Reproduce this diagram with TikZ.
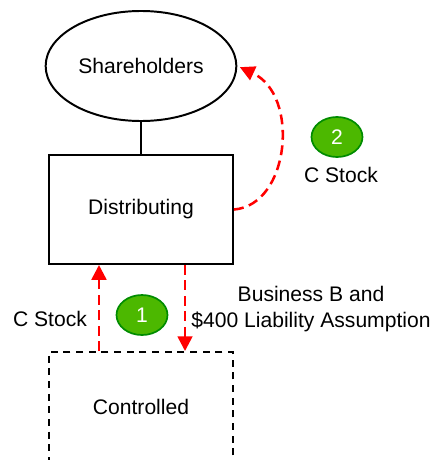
\documentclass[tikz,border=0pt]{standalone}
\usepackage{fontspec}
\setmainfont{Liberation Sans}
\usetikzlibrary{positioning,shapes.geometric,arrows.meta}

\tikzset{
  entity/.style={draw, line width=1.4pt, minimum width=4.6cm, minimum height=2.725cm},
  transfer/.style={red, line width=1.8pt, dash pattern=on 7pt off 4pt,
    -{Triangle[length=10.5pt,width=10.5pt]}},
  badge/.style={ellipse, draw=green!55!black, line width=1.2pt, fill=green!60!black!70!yellow,
    text=white, minimum width=1.275cm, minimum height=1cm, inner sep=0pt}
}

\begin{document}
\begin{tikzpicture}[x=0.025cm, y=-0.025cm,
    font=\fontsize{15}{18.5}\selectfont]
      \useasboundingbox (0,0) rectangle (434,460);
      % Define nodes
      \node[ellipse, draw, line width=1.4pt, minimum width=4.65cm, minimum height=2.75cm]
        (share) at (141,66) {Shareholders};
      \node[entity, below=0.8cm of share] (dist) {Distributing};
      \node[entity, dashed, dash pattern=on 5pt off 4pt, below=2.15cm of dist] (ctrl) {Controlled};
      \node[badge] (one) at (142,315) {1};
      \node[badge] (two) at (337,137) {2};
      \node (stockone) at (50,319) {C Stock};
      \node (stocktwo) at (341,175) {C Stock};
      \node[align=center] (business) at (311,309) {Business B and\\\$400 Liability Assumption};
      % Connect nodes
      \draw[line width=1.4pt] (share) -- (dist);
      \draw[transfer] ([xshift=-1.05cm]ctrl.north) -- ([xshift=-1.05cm]dist.south);
      \draw[transfer] ([xshift=1.1cm]dist.south) -- ([xshift=1.1cm]ctrl.north);
      \draw[transfer, shorten >=2pt] (dist.east) .. controls (290,205) and (300,95) .. (share.east);
    \end{tikzpicture}
\end{document}
